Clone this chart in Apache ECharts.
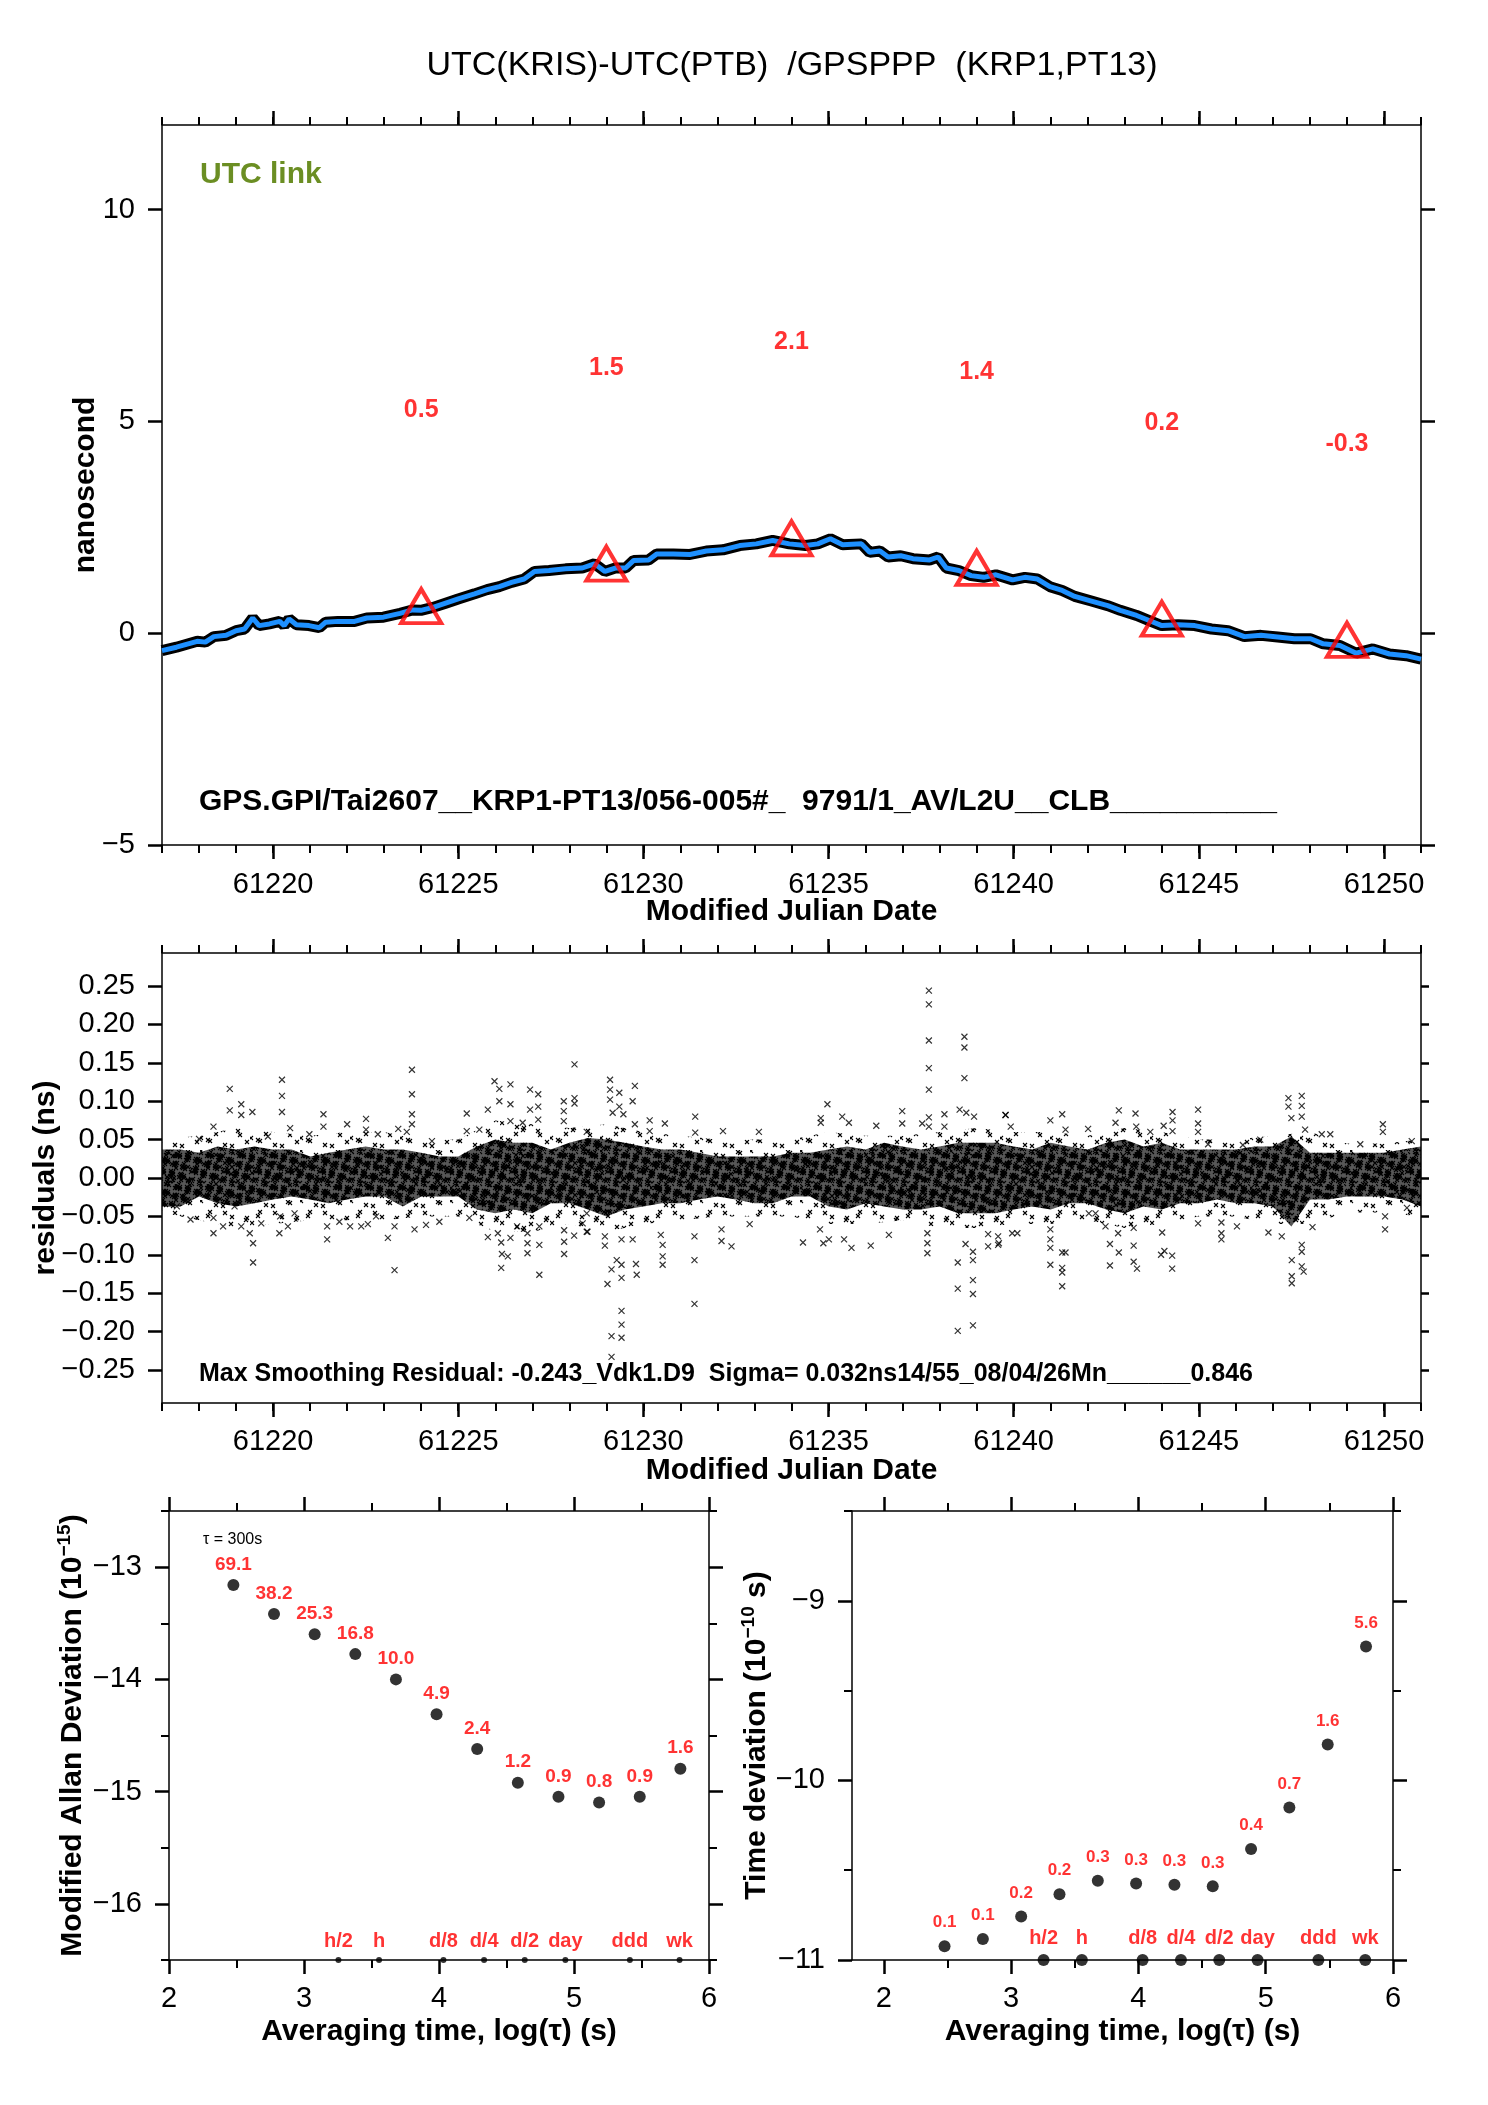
<!DOCTYPE html>
<html>
<head>
<meta charset="utf-8">
<title>UTC(KRIS)-UTC(PTB) /GPSPPP (KRP1,PT13)</title>
<script src="https://cdn.jsdelivr.net/npm/echarts@6.0.0/dist/echarts.min.js"></script>
<style>
html, body { margin: 0; padding: 0; background: #fff; }
#main { width: 1488px; height: 2105px; }
</style>
</head>
<body>
<div id="main"></div>
<script>
var FONT = '"Liberation Sans", Arial, Helvetica, sans-serif';

// ---- top panel: UTC link, nanosecond ----
var linkMjd = [61217.00, 61217.39, 61217.95, 61218.17, 61218.40, 61218.73, 61219.00, 61219.23, 61219.45, 61219.62,
  61219.90, 61220.18, 61220.30, 61220.43, 61220.63, 61220.97, 61221.25, 61221.42, 61221.75, 61222.20,
  61222.53, 61222.98, 61223.43, 61223.76, 61223.99, 61224.32, 61224.66, 61225.00, 61225.44, 61225.78,
  61226.11, 61226.44, 61226.78, 61227.06, 61227.45, 61227.90, 61228.35, 61228.68, 61228.96, 61229.24,
  61229.52, 61229.74, 61230.14, 61230.36, 61230.81, 61231.26, 61231.70, 61232.15, 61232.60, 61233.05,
  61233.49, 61233.94, 61234.38, 61234.71, 61235.05, 61235.38, 61235.89, 61236.11, 61236.39, 61236.61,
  61236.95, 61237.28, 61237.73, 61237.96, 61238.18, 61238.52, 61238.85, 61239.19, 61239.52, 61239.97,
  61240.30, 61240.64, 61240.98, 61241.31, 61241.65, 61242.10, 61242.54, 61242.88, 61243.32, 61243.66,
  61244.00, 61244.44, 61244.89, 61245.34, 61245.79, 61246.23, 61246.68, 61247.13, 61247.58, 61248.02,
  61248.36, 61248.81, 61249.25, 61249.70, 61250.15, 61250.60, 61251.00];
var linkNs = [-0.41, -0.33, -0.19, -0.21, -0.08, -0.05, 0.06, 0.10, 0.36, 0.18,
  0.22, 0.28, 0.18, 0.34, 0.20, 0.18, 0.13, 0.26, 0.28, 0.28,
  0.36, 0.38, 0.47, 0.55, 0.54, 0.61, 0.71, 0.81, 0.93, 1.03,
  1.10, 1.20, 1.28, 1.46, 1.48, 1.52, 1.54, 1.64, 1.46, 1.54,
  1.54, 1.72, 1.73, 1.87, 1.87, 1.86, 1.94, 1.97, 2.07, 2.11,
  2.19, 2.11, 2.07, 2.11, 2.23, 2.09, 2.11, 1.91, 1.94, 1.80,
  1.83, 1.76, 1.73, 1.80, 1.54, 1.48, 1.36, 1.32, 1.38, 1.26,
  1.32, 1.28, 1.10, 1.01, 0.87, 0.76, 0.65, 0.54, 0.42, 0.30,
  0.18, 0.20, 0.18, 0.10, 0.06, -0.08, -0.05, -0.09, -0.13, -0.13,
  -0.25, -0.29, -0.47, -0.37, -0.49, -0.53, -0.61];
var triMjd = [61224, 61229, 61234, 61239, 61244, 61249];
var triNs = [0.5, 1.5, 2.1, 1.4, 0.2, -0.3];
var mjdLabels = [61220, 61225, 61230, 61235, 61240, 61245, 61250];
var nsLabels = [-5, 0, 5, 10];

// ---- middle panel: residuals (ns) ----
var residLabels = [-0.25, -0.2, -0.15, -0.1, -0.05, 0, 0.05, 0.1, 0.15, 0.2, 0.25];
// dense core of the residual cloud, every half day from MJD 61217
var bandStart = 61217, bandStep = 0.5;
var bandHigh = [0.037, 0.037, 0.033, 0.041, 0.037, 0.041, 0.037, 0.037, 0.028, 0.033,
  0.037, 0.041, 0.037, 0.037, 0.033, 0.028, 0.028, 0.041, 0.050, 0.046,
  0.046, 0.037, 0.046, 0.052, 0.050, 0.046, 0.041, 0.037, 0.037, 0.033,
  0.028, 0.028, 0.028, 0.028, 0.033, 0.033, 0.037, 0.041, 0.037, 0.046,
  0.041, 0.037, 0.041, 0.046, 0.046, 0.046, 0.041, 0.037, 0.046, 0.041,
  0.037, 0.046, 0.050, 0.041, 0.046, 0.037, 0.037, 0.037, 0.037, 0.041,
  0.041, 0.054, 0.033, 0.033, 0.033, 0.033, 0.033, 0.037, 0.041];
var bandLow = [-0.037, -0.037, -0.024, -0.033, -0.037, -0.033, -0.028, -0.024, -0.028, -0.033,
  -0.028, -0.024, -0.024, -0.037, -0.024, -0.024, -0.024, -0.041, -0.046, -0.041,
  -0.046, -0.033, -0.033, -0.041, -0.050, -0.041, -0.037, -0.033, -0.033, -0.028,
  -0.024, -0.028, -0.033, -0.033, -0.024, -0.024, -0.037, -0.041, -0.033, -0.037,
  -0.041, -0.041, -0.037, -0.046, -0.046, -0.046, -0.041, -0.037, -0.041, -0.033,
  -0.033, -0.041, -0.046, -0.037, -0.041, -0.033, -0.033, -0.028, -0.033, -0.033,
  -0.037, -0.063, -0.028, -0.028, -0.024, -0.024, -0.024, -0.028, -0.037];
// sparser fringe of the cloud, every day from MJD 61217
var fringeStart = 61217, fringeStep = 1;
var fringeHigh = [0.050, 0.055, 0.065, 0.060, 0.055, 0.060, 0.060, 0.050, 0.050, 0.075, 0.070, 0.065,
  0.070, 0.060, 0.055, 0.050, 0.050, 0.050, 0.060, 0.055, 0.055, 0.060, 0.065,
  0.060, 0.060, 0.055, 0.065, 0.060, 0.050, 0.050, 0.055, 0.060, 0.045, 0.045, 0.050];
var fringeLow = [-0.045, -0.055, -0.065, -0.060, -0.055, -0.055, -0.055, -0.050, -0.050, -0.070, -0.070, -0.060,
  -0.070, -0.060, -0.055, -0.050, -0.050, -0.050, -0.060, -0.060, -0.055, -0.065, -0.065,
  -0.060, -0.060, -0.055, -0.065, -0.060, -0.050, -0.050, -0.060, -0.060, -0.045, -0.045, -0.050];
var residPoints = [
  [61218.83,0.116],[61218.83,0.088],[61219.14,0.096],[61219.14,0.082],[61219.44,0.086],[61220.24,0.128],[61220.24,0.107],
  [61220.24,0.086],[61220.46,0.065],[61219.86,0.054],[61218.39,0.067],[61218.00,0.051],[61221.36,0.083],[61221.36,0.067],
  [61222.00,0.070],[61222.51,0.077],[61222.51,0.063],[61222.83,0.057],[61223.38,0.064],[61223.75,0.141],[61223.75,0.109],
  [61223.75,0.083],[61223.75,0.070],[61223.61,0.060],[61225.23,0.084],[61225.23,0.061],[61225.98,0.126],[61226.11,0.116],
  [61226.11,0.100],[61226.41,0.122],[61226.41,0.096],[61226.41,0.074],[61226.94,0.115],[61226.94,0.089],[61227.16,0.109],
  [61227.16,0.093],[61227.16,0.076],[61227.85,0.100],[61227.85,0.087],[61227.85,0.074],[61228.14,0.148],[61228.14,0.104],
  [61228.14,0.097],[61228.47,0.060],[61226.74,0.072],[61225.80,0.089],[61225.57,0.063],[61224.29,0.048],[61220.98,0.057],
  [61217.77,-0.054],[61218.39,-0.072],[61218.39,-0.052],[61218.65,-0.063],[61219.14,-0.063],[61219.37,-0.072],[61219.46,-0.085],
  [61219.46,-0.110],[61219.68,-0.059],[61220.17,-0.072],[61220.19,-0.050],[61220.40,-0.063],[61220.58,-0.046],[61221.46,-0.063],
  [61221.46,-0.080],[61221.79,-0.057],[61222.08,-0.063],[61222.38,-0.063],[61222.56,-0.060],[61222.78,-0.050],[61223.10,-0.078],
  [61223.28,-0.120],[61223.28,-0.063],[61223.82,-0.067],[61224.13,-0.061],[61224.49,-0.057],[61225.30,-0.052],[61225.80,-0.077],
  [61226.07,-0.072],[61226.16,-0.084],[61226.16,-0.117],[61226.18,-0.099],[61226.34,-0.102],[61226.41,-0.078],[61226.59,-0.063],
  [61226.87,-0.098],[61226.87,-0.085],[61226.87,-0.072],[61227.19,-0.087],[61227.19,-0.126],[61227.19,-0.063],[61227.86,-0.099],
  [61227.86,-0.083],[61227.86,-0.068],[61228.13,-0.075],[61228.47,-0.070],[61228.47,-0.046],[61218.96,-0.037],[61217.40,-0.037],
  [61229.10,0.128],[61229.10,0.115],[61229.10,0.102],[61229.17,0.085],[61229.35,0.111],[61229.35,0.093],[61229.46,0.083],
  [61229.77,0.120],[61229.71,0.100],[61229.77,0.070],[61230.17,0.075],[61230.17,0.061],[61230.58,0.071],[61231.40,0.080],
  [61231.40,0.059],[61232.15,0.061],[61233.12,0.060],[61234.97,0.096],[61234.79,0.078],[61234.79,0.072],[61235.37,0.080],
  [61235.55,0.072],[61236.29,0.068],[61236.99,0.087],[61236.99,0.071],[61237.71,0.244],[61237.71,0.226],[61237.71,0.179],
  [61237.71,0.143],[61237.71,0.115],[61237.71,0.079],[61237.71,0.067],[61238.67,0.184],[61238.67,0.170],[61238.67,0.130],
  [61238.54,0.089],[61238.72,0.085],[61238.93,0.080],[61238.13,0.083],[61239.78,0.082],[61238.13,0.067],[61237.53,0.071],
  [61229.03,-0.138],[61229.14,-0.119],[61229.14,-0.206],[61229.14,-0.233],[61229.41,-0.113],[61229.41,-0.130],[61229.41,-0.173],
  [61229.41,-0.191],[61229.41,-0.208],[61229.28,-0.107],[61228.96,-0.076],[61228.96,-0.088],[61229.80,-0.112],[61229.82,-0.126],
  [61229.41,-0.080],[61229.71,-0.080],[61230.52,-0.102],[61230.52,-0.113],[61230.52,-0.087],[61230.47,-0.074],[61231.38,-0.076],
  [61231.38,-0.107],[61231.38,-0.164],[61232.11,-0.082],[61232.38,-0.089],[61232.11,-0.067],[61232.87,-0.060],[61234.31,-0.084],
  [61234.86,-0.085],[61234.77,-0.067],[61235.01,-0.080],[61235.42,-0.080],[61235.62,-0.091],[61236.14,-0.088],[61236.63,-0.074],
  [61237.67,-0.098],[61237.67,-0.085],[61237.67,-0.072],[61238.49,-0.110],[61238.49,-0.144],[61238.49,-0.199],[61238.90,-0.107],
  [61238.90,-0.133],[61238.90,-0.151],[61238.90,-0.192],[61238.70,-0.086],[61238.90,-0.096],[61239.31,-0.073],[61239.31,-0.089],
  [61239.58,-0.087],[61239.58,-0.076],[61228.49,-0.070],[61228.36,-0.059],
  [61239.78,0.082],[61239.92,0.067],[61240.99,0.075],[61241.31,0.083],[61241.40,0.063],[61242.01,0.064],[61242.84,0.088],
  [61242.75,0.072],[61243.29,0.084],[61243.31,0.067],[61243.69,0.060],[61244.05,0.068],[61244.29,0.086],[61244.29,0.075],
  [61244.29,0.061],[61244.98,0.089],[61244.98,0.071],[61244.98,0.060],[61245.25,0.044],[61246.19,0.043],[61246.66,0.050],
  [61247.42,0.104],[61247.42,0.093],[61247.50,0.078],[61247.78,0.107],[61247.78,0.094],[61247.78,0.080],[61247.87,0.063],
  [61248.32,0.057],[61248.55,0.057],[61249.36,0.044],[61249.97,0.070],[61249.97,0.060],[61250.75,0.048],
  [61239.60,-0.085],[61239.96,-0.072],[61240.10,-0.072],[61240.99,-0.067],[61240.99,-0.080],[61240.99,-0.091],[61240.99,-0.113],
  [61241.31,-0.097],[61241.40,-0.097],[61241.31,-0.117],[61241.31,-0.123],[61241.31,-0.141],[61242.03,-0.046],[61242.21,-0.046],
  [61242.48,-0.063],[61242.60,-0.086],[61242.60,-0.114],[61242.84,-0.097],[61242.82,-0.072],[61243.24,-0.088],[61243.24,-0.109],
  [61243.33,-0.118],[61243.24,-0.065],[61243.98,-0.100],[61244.07,-0.095],[61244.28,-0.101],[61244.28,-0.118],[61244.01,-0.071],
  [61244.98,-0.059],[61245.61,-0.058],[61245.61,-0.072],[61245.61,-0.080],[61246.03,-0.063],[61246.88,-0.071],[61247.24,-0.076],
  [61247.51,-0.107],[61247.51,-0.128],[61247.51,-0.137],[61247.78,-0.087],[61247.78,-0.096],[61247.78,-0.115],[61247.83,-0.122],
  [61248.07,-0.064],[61250.03,-0.067],[61250.03,-0.050],[61250.62,-0.039]
];

// ---- bottom panels: stability vs log(tau) ----
var logTau = [2.477, 2.778, 3.079, 3.380, 3.681, 3.982, 4.283, 4.584, 4.885, 5.186, 5.487, 5.788];
var mdevLog = [-13.160, -13.418, -13.597, -13.775, -14.000, -14.310, -14.620, -14.921, -15.046, -15.097, -15.046, -14.796];
var mdevText = ['69.1', '38.2', '25.3', '16.8', '10.0', '4.9', '2.4', '1.2', '0.9', '0.8', '0.9', '1.6'];
var tdevLog = [-10.923, -10.883, -10.758, -10.634, -10.559, -10.574, -10.581, -10.590, -10.382, -10.151, -9.800, -9.255];
var tdevText = ['0.1', '0.1', '0.2', '0.2', '0.3', '0.3', '0.3', '0.3', '0.4', '0.7', '1.6', '5.6'];
var markLog = [3.255, 3.556, 4.033, 4.334, 4.635, 4.936, 5.414, 5.782];
var markText = ['h/2', 'h', 'd/8', 'd/4', 'd/2', 'day', 'ddd', 'wk'];
var logLabels = [2, 3, 4, 5, 6];
var logMinor = [2.5, 3.5, 4.5, 5.5];
var mdevLabels = [-16, -15, -14, -13];
var mdevMinor = [-16.5, -15.5, -14.5, -13.5, -12.5];
var tdevLabels = [-11, -10, -9];
var tdevMinor = [-10.5, -9.5, -8.5];

var mjdMinor = [];
for (var d = 61217; d <= 61251; d++) mjdMinor.push(d);

function minusSign(v, digits) {
  var s = digits == null ? String(v) : v.toFixed(digits);
  return s.replace('-', '\u2212');
}
function pairs(xs, ys) {
  return xs.map(function (x, i) { return [x, ys[i]]; });
}

// texture of small crosses, used to fill the residual cloud
function crossPattern(size, base, step, jit) {
  var c = document.createElement('canvas');
  c.width = size; c.height = size;
  var ctx = c.getContext('2d');
  if (base) { ctx.fillStyle = base; ctx.fillRect(0, 0, size, size); }
  ctx.strokeStyle = '#000';
  ctx.lineWidth = 1.1;
  var n = Math.round(size / step);
  for (var i = 0; i < n; i++) {
    for (var j = 0; j < n; j++) {
      var cx = i * step + jit[(i + 3 * j) % jit.length], cy = j * step + jit[(5 * i + j) % jit.length];
      ctx.beginPath();
      ctx.moveTo(cx - 2, cy - 2); ctx.lineTo(cx + 2, cy + 2);
      ctx.moveTo(cx + 2, cy - 2); ctx.lineTo(cx - 2, cy + 2);
      ctx.stroke();
    }
  }
  return c;
}
var coreFill = { image: crossPattern(32, 'rgba(0,0,0,0.66)', 4, [0, 3, 1, 4, 2, 0, 3, 1]), repeat: 'repeat' };
var fringeFill = { image: crossPattern(50, null, 10, [1, 6, 3, 8, 0, 5, 2, 7, 4]), repeat: 'repeat' };

function bandItem(start, step, high, low, fill) {
  return function (params, api) {
    var pts = [], i;
    for (i = 0; i < high.length; i++) pts.push(api.coord([start + i * step, high[i]]));
    for (i = low.length - 1; i >= 0; i--) pts.push(api.coord([start + i * step, low[i]]));
    return { type: 'polygon', shape: { points: pts }, style: { fill: fill } };
  };
}

var nameStyle = { fontFamily: FONT, fontSize: 30, fontWeight: 'bold', color: '#000' };
var supRich = {
  t: { fontFamily: FONT, fontSize: 30, fontWeight: 'bold', color: '#000', lineHeight: 36 },
  s: { fontFamily: FONT, fontSize: 19, fontWeight: 'bold', color: '#000', lineHeight: 20, verticalAlign: 'top' }
};

var xAxes = [], yAxes = [];
function plainAxis(g, pos, min, max) {
  return {
    type: 'value', gridIndex: g, position: pos, min: min, max: max,
    axisLine: { show: false, onZero: false }, splitLine: { show: false }, axisLabel: { show: false },
    axisTick: { show: false }, axisPointer: { show: false }
  };
}
function tickStyle(values, len, width) {
  return { show: true, inside: false, customValues: values, length: len,
    lineStyle: { color: '#000', width: width } };
}
// one direction of a panel: labelled side, far side, and minor ticks on a twin grid
function frame(list, g, twin, sides, r) {
  var idx = -1;
  sides.forEach(function (pos, k) {
    var a = plainAxis(g, pos, r.min, r.max);
    a.axisLine = { show: true, onZero: false, lineStyle: { color: '#000', width: 1.5 } };
    a.axisTick = tickStyle(r.major, k === 1 && r.farLen ? r.farLen : 14, k === 1 && r.farWidth ? r.farWidth : 2.5);
    if (k === 0) {
      a.axisLabel = { show: true, customValues: r.major, formatter: r.fmt, margin: r.margin,
        fontFamily: FONT, fontSize: 29, color: '#000' };
      a.name = r.name;
      a.nameLocation = 'middle';
      a.nameGap = r.nameGap;
      a.nameMoveOverlap = false;
      a.nameTextStyle = r.nameStyle || nameStyle;
      idx = list.length;
    }
    list.push(a);
    var m = plainAxis(twin, pos, r.min, r.max);
    if (r.minor) m.axisTick = tickStyle(r.minor, 8, k === 1 && r.farWidth ? r.farWidth : 2);
    list.push(m);
  });
  return idx;
}

var numFmt = function (v) { return String(v); };
var xr0 = { min: 61217, max: 61251, major: mjdLabels, minor: mjdMinor,
  fmt: numFmt, margin: 25, name: 'Modified Julian Date', nameGap: 52 };
var yr0 = { min: -5, max: 12, major: nsLabels,
  fmt: function (v) { return minusSign(v); }, margin: 27, name: 'nanosecond', nameGap: 61 };
var xr1 = { min: 61217, max: 61251, major: mjdLabels, minor: mjdMinor,
  fmt: numFmt, margin: 24, name: 'Modified Julian Date', nameGap: 53 };
var yr1 = { min: -0.293, max: 0.293, major: residLabels,
  fmt: function (v) { return minusSign(v, 2); }, margin: 27, name: 'residuals (ns)', nameGap: 101,
  farLen: 8, farWidth: 2.5 };
var xr2 = { min: 2, max: 6, major: logLabels, minor: logMinor,
  fmt: numFmt, margin: 24, name: 'Averaging time, log(\u03c4) (s)', nameGap: 57 };
var yr2 = { min: -16.5, max: -12.5, major: mdevLabels, minor: mdevMinor,
  fmt: function (v) { return minusSign(v); }, margin: 27, nameGap: 78,
  name: '{t|Modified Allan Deviation (10}{s|\u221215}{t|)}', nameStyle: { rich: supRich } };
var xr3 = { min: 1.75, max: 6, major: logLabels, minor: logMinor,
  fmt: numFmt, margin: 24, name: 'Averaging time, log(\u03c4) (s)', nameGap: 57 };
var yr3 = { min: -11, max: -8.5, major: tdevLabels, minor: tdevMinor,
  fmt: function (v) { return minusSign(v); }, margin: 27, nameGap: 77,
  name: '{t|Time deviation (10}{s|\u221210}{t| s)}', nameStyle: { rich: supRich } };

var x0 = frame(xAxes, 0, 4, ['bottom', 'top'], xr0), y0 = frame(yAxes, 0, 4, ['left', 'right'], yr0);
var x1 = frame(xAxes, 1, 5, ['bottom', 'top'], xr1), y1 = frame(yAxes, 1, 5, ['left', 'right'], yr1);
var x2 = frame(xAxes, 2, 6, ['bottom', 'top'], xr2), y2 = frame(yAxes, 2, 6, ['left', 'right'], yr2);
var x3 = frame(xAxes, 3, 7, ['bottom', 'top'], xr3), y3 = frame(yAxes, 3, 7, ['left', 'right'], yr3);

var redLabel = { color: '#ff0000', fontFamily: FONT, fontWeight: 'bold' };
function labelFrom(texts, size, dist) {
  return Object.assign({ show: true, position: 'top', distance: dist, fontSize: size,
    formatter: function (p) { return texts[p.dataIndex]; } }, redLabel);
}

var series = [
  { type: 'line', xAxisIndex: x0, yAxisIndex: y0, data: pairs(linkMjd, linkNs), symbol: 'none',
    lineStyle: { color: '#000', width: 11 }, z: 2, silent: true },
  { type: 'line', xAxisIndex: x0, yAxisIndex: y0, data: pairs(linkMjd, linkNs), symbol: 'none',
    lineStyle: { color: '#1e90ff', width: 5 }, z: 3, silent: true },
  { type: 'scatter', xAxisIndex: x0, yAxisIndex: y0, data: pairs(triMjd, triNs), symbol: 'triangle',
    symbolSize: [40, 34], symbolOffset: [0, -6], z: 4, silent: true,
    itemStyle: { color: 'rgba(0,0,0,0)', borderColor: '#ff0000', borderWidth: 4 } },
  { type: 'scatter', xAxisIndex: x0, yAxisIndex: y0, data: pairs(triMjd, triNs), symbolSize: 1, z: 5, silent: true,
    itemStyle: { color: 'rgba(0,0,0,0)' },
    label: Object.assign({ show: true, position: 'inside', offset: [0, -202], fontSize: 25,
      formatter: function (p) { return triNs[p.dataIndex].toFixed(1); } }, redLabel) },

  { type: 'custom', xAxisIndex: x1, yAxisIndex: y1, data: [[61234, 0]], silent: true, z: 1,
    renderItem: bandItem(fringeStart, fringeStep, fringeHigh, fringeLow, fringeFill) },
  { type: 'custom', xAxisIndex: x1, yAxisIndex: y1, data: [[61234, 0]], silent: true, z: 2,
    renderItem: bandItem(bandStart, bandStep, bandHigh, bandLow, coreFill) },
  { type: 'scatter', xAxisIndex: x1, yAxisIndex: y1, data: residPoints, silent: true, z: 3,
    symbol: 'path://M0,0L10,10M10,0L0,10', symbolSize: 6,
    itemStyle: { color: 'rgba(0,0,0,0)', borderColor: '#000', borderWidth: 1.2 } },

  { type: 'scatter', xAxisIndex: x2, yAxisIndex: y2, data: pairs(logTau, mdevLog), symbolSize: 12, silent: true,
    itemStyle: { color: '#000' }, label: labelFrom(mdevText, 19, 5) },
  { type: 'scatter', xAxisIndex: x2, yAxisIndex: y2, clip: false, silent: true, symbolSize: 6,
    data: markLog.map(function (x) { return [x, yr2.min]; }),
    itemStyle: { color: '#000' }, label: labelFrom(markText, 20, 6) },

  { type: 'scatter', xAxisIndex: x3, yAxisIndex: y3, data: pairs(logTau, tdevLog), symbolSize: 12, silent: true,
    itemStyle: { color: '#000' }, label: labelFrom(tdevText, 17, 9) },
  { type: 'scatter', xAxisIndex: x3, yAxisIndex: y3, clip: false, silent: true, symbolSize: 12,
    data: markLog.map(function (x) { return [x, yr3.min]; }),
    itemStyle: { color: '#000' }, label: labelFrom(markText, 20, 6) }
];

function text(x, y, str, font, color, align) {
  return { type: 'text', x: x, y: y, silent: true,
    style: { text: str, font: font, fill: color || '#000', textAlign: align || 'left', textVerticalAlign: 'middle' } };
}

var panels = [
  { left: 162, top: 125, width: 1259, height: 720 },
  { left: 162, top: 953, width: 1259, height: 450 },
  { left: 169, top: 1511, width: 540, height: 449 },
  { left: 852, top: 1511, width: 541, height: 449 }
];
// main grids, then twin grids (same boxes) that only carry the minor ticks
var grids = panels.concat(panels).map(function (p) {
  return Object.assign({}, p);
});

var option = {
  animation: false,
  backgroundColor: '#ffffff',
  grid: grids,
  xAxis: xAxes,
  yAxis: yAxes,
  series: series,
  graphic: [
    text(792, 66, 'UTC(KRIS)-UTC(PTB)  /GPSPPP  (KRP1,PT13)', '34px ' + FONT, '#000', 'center'),
    text(200, 175, 'UTC link', 'bold 30px ' + FONT, '#6b8e23'),
    text(199, 802, 'GPS.GPI/Tai2607__KRP1-PT13/056-005#_  9791/1_AV/L2U__CLB__________', 'bold 30px ' + FONT),
    text(199, 1374, 'Max Smoothing Residual: -0.243_Vdk1.D9  Sigma= 0.032ns14/55_08/04/26Mn______0.846', 'bold 25px ' + FONT),
    text(203, 1540, '\u03c4 = 300s', '16px ' + FONT)
  ]
};

var myChart = echarts.init(document.getElementById('main'), null, { renderer: 'canvas' });
myChart.setOption(option);
</script>
</body>
</html>
